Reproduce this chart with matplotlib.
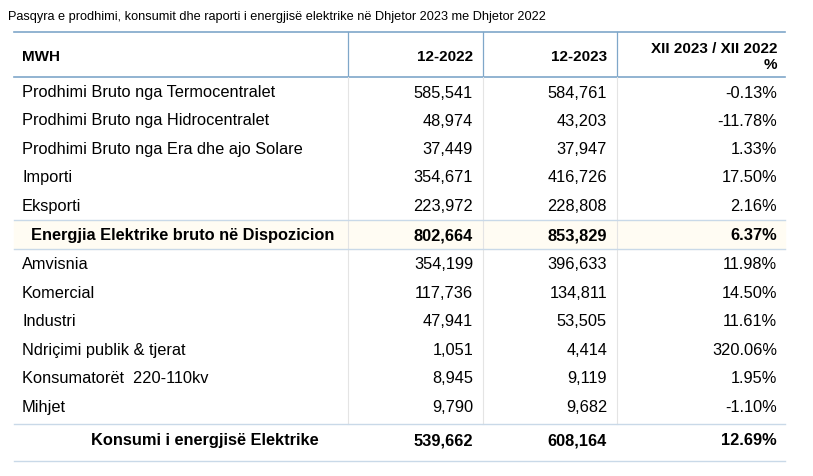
import matplotlib
matplotlib.use("Agg")
import matplotlib.pyplot as plt

title = "Pasqyra e prodhimi, konsumit dhe raporti i energjisë elektrike në Dhjetor 2023 me Dhjetor 2022"
headers = ["MWH", "12-2022", "12-2023", "XII 2023 / XII 2022\n%"]
labels = ["Prodhimi Bruto nga Termocentralet", "Prodhimi Bruto nga Hidrocentralet",
          "Prodhimi Bruto nga Era dhe ajo Solare", "Importi", "Eksporti",
          "Energjia Elektrike bruto në Dispozicion",
          "Amvisnia", "Komercial", "Industri", "Ndriçimi publik & tjerat",
          "Konsumatorët  220-110kv", "Mihjet", "Konsumi i energjisë Elektrike"]
v2022 = ["585,541", "48,974", "37,449", "354,671", "223,972", "802,664",
         "354,199", "117,736", "47,941", "1,051", "8,945", "9,790", "539,662"]
v2023 = ["584,761", "43,203", "37,947", "416,726", "228,808", "853,829",
         "396,633", "134,811", "53,505", "4,414", "9,119", "9,682", "608,164"]
pct = ["-0.13%", "-11.78%", "1.33%", "17.50%", "2.16%", "6.37%",
       "11.98%", "14.50%", "11.61%", "320.06%", "1.95%", "-1.10%", "12.69%"]
bold_rows = [5, 12]

plt.rcParams["font.family"] = "Liberation Sans"
fig = plt.figure(figsize=(8.13, 4.77), dpi=100)
ax = fig.add_axes([0, 0, 1, 1])
ax.set_xlim(0, 813); ax.set_ylim(477, 0); ax.axis("off")

ax.text(8, 17, title, fontsize=9.2, va="center", ha="left")
line_c = "#7fa7c9"
ax.plot([14, 785], [33, 33], color=line_c, lw=1.2)
ax.plot([14, 785], [78, 78], color=line_c, lw=1.2)
for x in [348, 483, 617]:
    ax.plot([x, x], [33, 78], color=line_c, lw=0.9)
    ax.plot([x, x], [78, 425], color="#e4e4e4", lw=0.8)

fs = 11.8
ax.text(22, 57, headers[0], fontsize=11, weight="bold", va="center")
ax.text(473, 57, headers[1], fontsize=11, weight="bold", va="center", ha="right")
ax.text(607, 57, headers[2], fontsize=11, weight="bold", va="center", ha="right")
ax.text(777, 57, headers[3], fontsize=11, weight="bold", va="center", ha="right",
        linespacing=1.2)

ys = [93, 121, 150, 178, 207, 236, 265, 294, 322, 351, 379, 408, 441]
ax.fill_between([14, 785], 222, 250, color="#fffcf3", zorder=0)
ax.plot([14, 785], [221, 221], color="#c9d9e8", lw=1)
ax.plot([14, 785], [250, 250], color="#c9d9e8", lw=1)
ax.plot([14, 785], [425, 425], color="#c9d9e8", lw=1)
ax.plot([14, 785], [462, 462], color="#c9d9e8", lw=1)

for i, y in enumerate(ys):
    b = "bold" if i in bold_rows else "normal"
    if i == 12:
        ax.text(205, y, labels[i], fontsize=fs, weight=b, va="center", ha="center")
    else:
        ax.text(31 if i == 5 else 22, y, labels[i], fontsize=fs, weight=b, va="center")
    ax.text(473, y, v2022[i], fontsize=fs, weight=b, va="center", ha="right")
    ax.text(607, y, v2023[i], fontsize=fs, weight=b, va="center", ha="right")
    ax.text(777, y, pct[i], fontsize=fs, weight=b, va="center", ha="right")

fig.savefig("out.png", dpi=100)
